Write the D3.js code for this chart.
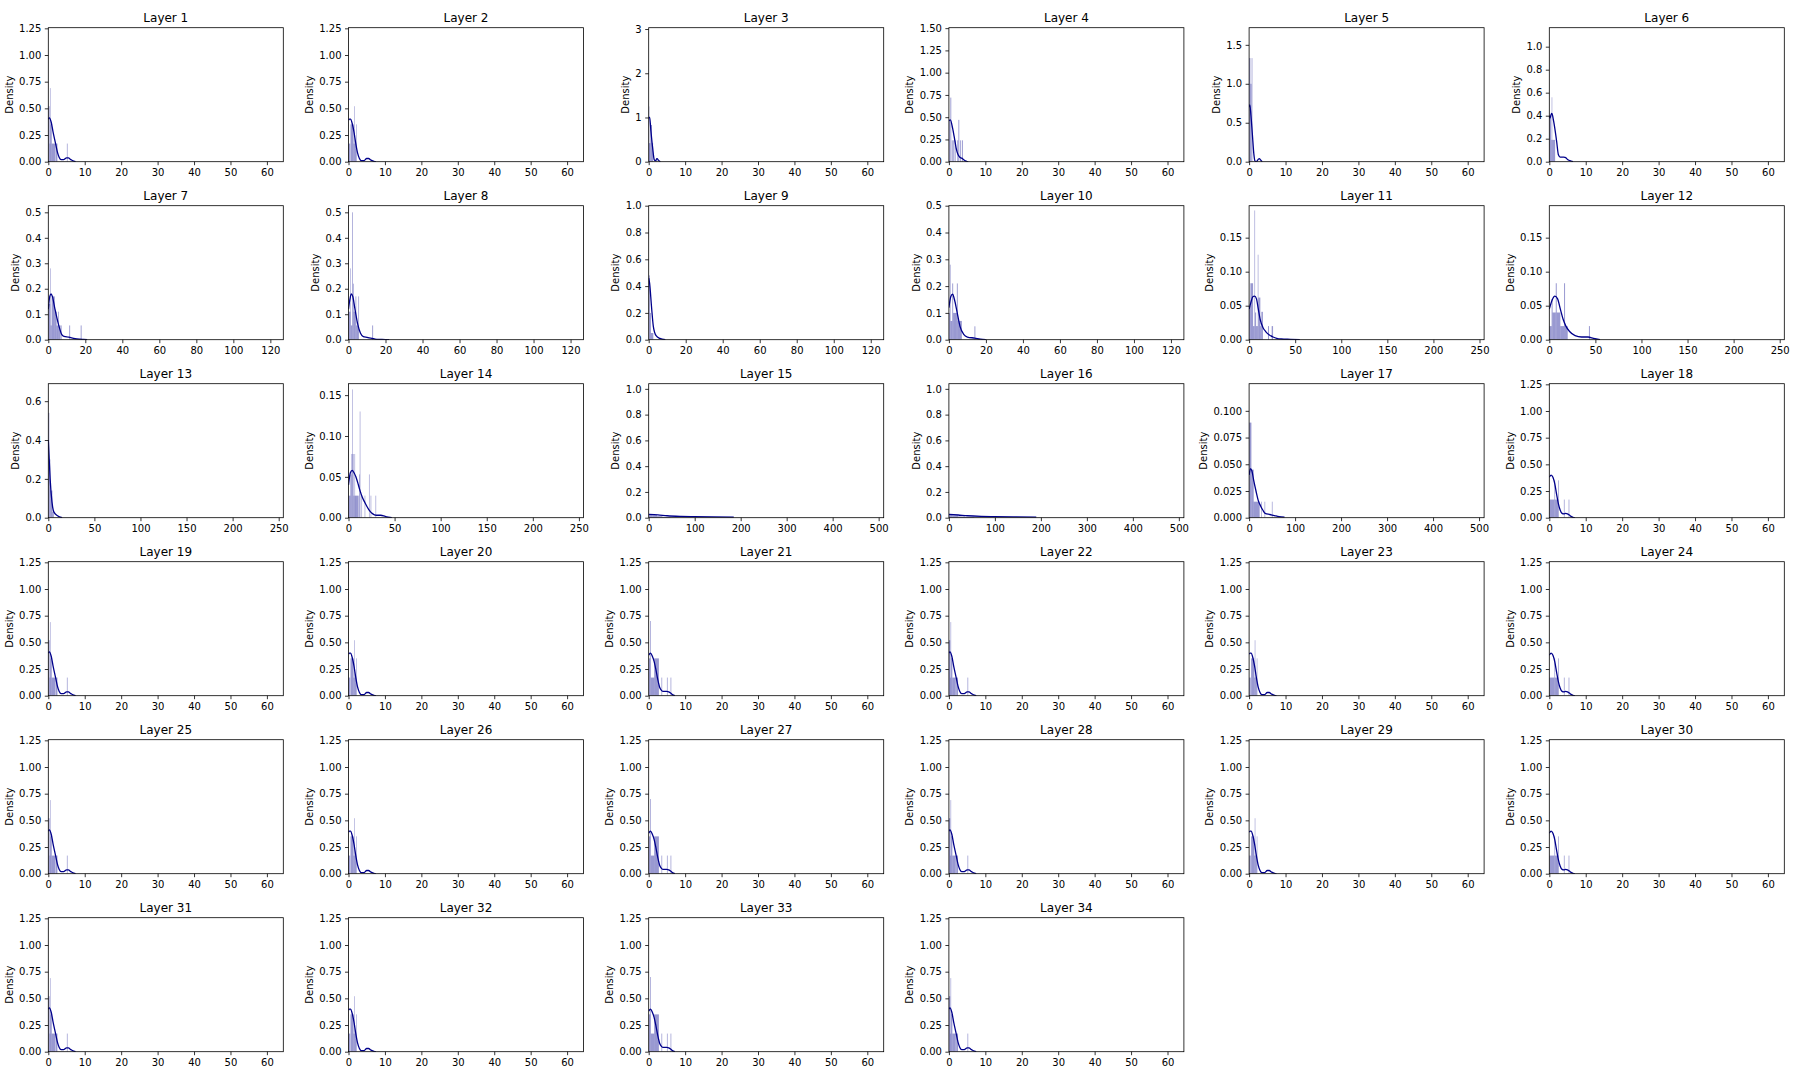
<!DOCTYPE html>
<html><head><meta charset="utf-8">
<script src="https://cdn.jsdelivr.net/npm/d3@7"></script>
<style>body{margin:0;background:#fff}text{font-family:"DejaVu Sans",sans-serif}</style>
</head><body>
<script>
const layerTitles = ["Layer 1","Layer 2","Layer 3","Layer 4","Layer 5","Layer 6","Layer 7","Layer 8","Layer 9","Layer 10","Layer 11","Layer 12","Layer 13","Layer 14","Layer 15","Layer 16","Layer 17","Layer 18","Layer 19","Layer 20","Layer 21","Layer 22","Layer 23","Layer 24","Layer 25","Layer 26","Layer 27","Layer 28","Layer 29","Layer 30","Layer 31","Layer 32","Layer 33","Layer 34"];
const xLimits = [64.5,64.5,64.5,64.5,64.5,64.5,127,127,127,127,255,255,255,255,511,511,511,64.5,64.5,64.5,64.5,64.5,64.5,64.5,64.5,64.5,64.5,64.5,64.5,64.5,64.5,64.5,64.5,64.5];
const yLimits = [1.256,1.256,3.03,1.505,1.72,1.165,0.526,0.526,1.0,0.5,0.197,0.197,0.69,0.164,1.04,1.04,0.1254,1.256,1.256,1.256,1.256,1.256,1.256,1.256,1.256,1.256,1.256,1.256,1.256,1.256,1.256,1.256,1.256,1.256];
// x tick sets
const xTicks64 = [0,10,20,30,40,50,60];
const xTicks128 = [0,20,40,60,80,100,120];
const xTicks256 = [0,50,100,150,200,250];
const xTicks512 = [0,100,200,300,400,500];
const xTickSet = [64,64,64,64,64,64,128,128,128,128,256,256,256,256,512,512,512,64,64,64,64,64,64,64,64,64,64,64,64,64,64,64,64,64];
// y tick sets
const yTicksQ = [0,0.25,0.5,0.75,1.0,1.25];
const yTicks3 = [0,1,2,3];
const yTicksQ15 = [0,0.25,0.5,0.75,1.0,1.25,1.5];
const yTicksH = [0,0.5,1.0,1.5];
const yTicksF = [0,0.2,0.4,0.6,0.8,1.0];
const yTicksT = [0,0.1,0.2,0.3,0.4,0.5];
const yTicks05 = [0,0.05,0.10,0.15];
const yTicks06 = [0,0.2,0.4,0.6];
const yTicks025 = [0,0.025,0.05,0.075,0.1];
const yTickSet = ["Q","Q","3","Q15","H","F",
                  "T","T","F","T","05","05",
                  "06","05","F","F","025","Q",
                  "Q","Q","Q","Q","Q","Q",
                  "Q","Q","Q","Q","Q","Q",
                  "Q","Q","Q","Q"];

// histogram bars: [binStart, binEnd, density]
const hist01 = [[0,0.35,0.52],[0.35,0.45,0.17],[0.45,0.6,0.69],[0.6,0.95,0.35],[0.95,1.9,0.17],[2.0,2.5,0.17],[5.1,5.3,0.17]];
const hist02 = [[0,0.45,0.17],[0.55,1.4,0.35],[1.4,1.55,0.17],[1.55,1.7,0.52],[1.7,2.1,0.17],[2.1,2.25,0.35]];
const hist03 = [[0,0.1,1.25],[0.1,0.45,0.42],[0.45,0.9,0.83],[0.9,1.2,0.42],[2.0,2.3,0.08]];
const hist04 = [[0,0.25,0.47],[0.4,0.65,0.72],[0.8,1.05,0.24],[1.2,1.45,0.24],[1.6,1.85,0.24],[2.3,2.55,0.24],[2.6,2.85,0.47],[3.1,3.35,0.24],[3.6,3.85,0.24]];
const hist05 = [[0,0.35,1.33],[0.35,0.65,1.0],[0.7,0.9,1.33]];
const hist06 = [[0,0.5,0.4],[0.5,0.65,0.19],[0.65,0.8,0.56],[0.8,1.6,0.19]];
const hist07 = [[0,1,0.14],[1,1.3,0.28],[1.3,1.8,0.056],[1.8,3.5,0.17],[3.5,4.5,0.11],[4.5,5.3,0.056],[5.3,5.7,0.11],[5.7,6.3,0.056],[6.5,7.2,0.056],[11.3,11.8,0.056],[17.5,18.0,0.056]];
const hist08 = [[0,1,0.11],[1,1.3,0.28],[1.3,2.0,0.056],[2.0,2.4,0.5],[2.4,2.8,0.22],[2.8,3.8,0.11],[3.8,4.2,0.17],[4.2,5.3,0.056],[5.3,5.7,0.17],[12.8,13.3,0.056]];
const hist09 = [[0,0.6,0.48],[0.6,1.2,0.2],[1.2,2.5,0.05]];
const hist10 = [[0,0.5,0.1],[0.5,0.9,0.28],[0.9,1.8,0.07],[1.8,2.3,0.21],[2.3,4.3,0.1],[4.3,4.8,0.21],[4.8,7,0.07],[13.8,14.3,0.05]];
const hist11 = [[0,1.4,0.05],[1.4,4.3,0.083],[4.3,5.8,0.02],[5.8,6.5,0.19],[6.5,7.6,0.04],[7.6,9.4,0.02],[9.4,10.1,0.125],[10.1,12.2,0.062],[12.2,13.3,0.02],[13.3,15,0.041],[20.5,21.6,0.02],[24.5,26,0.02]];
const hist12 = [[0,2.5,0.02],[2.5,3.6,0.06],[3.6,7,0.04],[7,8.1,0.083],[8.1,12,0.04],[12,16,0.02],[16,17.1,0.083],[17.1,20,0.02],[43,44.1,0.02]];
const hist13 = [[0,1.1,0.54],[1.1,2.2,0.3],[2.2,4.4,0.14],[4.4,6,0.03]];
const hist14 = [[0,2,0.027],[2,3.2,0.053],[3.2,3.9,0.078],[3.9,4.5,0.157],[4.5,5.5,0.078],[5.5,6.5,0.027],[6.5,7,0.078],[7,11,0.027],[11.5,12.2,0.053],[12.2,12.9,0.13],[14,14.7,0.027],[17.5,18.2,0.027],[22.2,22.9,0.053],[24,24.7,0.027],[29.3,30,0.027]];
const hist15 = [[0,8,0.028],[8,18,0.02],[18,30,0.012],[30,47,0.006]];
const hist16 = [[0,8,0.026],[8,20,0.018],[20,35,0.01],[35,55,0.005]];
const hist17 = [[0,5,0.089],[5,10,0.045],[10,23,0.015],[26,27.5,0.015],[33.5,35,0.015],[49.5,51,0.015]];
const hist18 = [[0,1.4,0.17],[1.4,1.6,0.35],[1.6,2.4,0.17],[2.4,2.6,0.35],[4,4.2,0.17],[5.3,5.5,0.17]];
const hist21 = [[0,0.4,0.35],[0.4,0.6,0.7],[0.6,1.5,0.17],[1.5,2.8,0.35],[3.5,3.7,0.17],[5,5.2,0.17],[6,6.2,0.17]];

// KDE curves: [x, density]
const kde01 = [[0,0.40],[0.3,0.41],[0.8,0.37],[1.3,0.28],[2,0.17],[2.5,0.09],[3,0.04],[3.5,0.02],[4.2,0.02],[5,0.035],[5.5,0.035],[6.2,0.02],[7,0.005],[7.5,0]];
const kde02 = [[0,0.39],[0.3,0.40],[0.6,0.40],[1,0.36],[1.5,0.28],[2,0.17],[2.5,0.08],[3,0.03],[3.5,0.01],[4.2,0.01],[5,0.03],[5.5,0.03],[6.2,0.015],[7,0.003],[7.5,0]];
const kde03 = [[0,1.0],[0.27,1.0],[0.6,0.7],[1.1,0.3],[1.5,0.05],[1.8,0.02],[2.3,0.07],[2.7,0.03],[3.2,0]];
const kde04 = [[0,0.46],[0.4,0.47],[1,0.38],[1.5,0.27],[2,0.15],[2.5,0.08],[3,0.05],[3.5,0.04],[4,0.025],[4.5,0.01],[5,0.002],[5.3,0]];
const kde05 = [[0,0.7],[0.2,0.73],[0.5,0.6],[0.9,0.35],[1.3,0.1],[1.6,0.01],[2,0.0],[2.5,0.03],[2.8,0.04],[3.2,0.02],[3.6,0]];
const kde06 = [[0,0.4],[0.2,0.38],[0.5,0.41],[0.7,0.42],[1.2,0.35],[2,0.18],[2.5,0.06],[3,0.04],[4,0.04],[4.5,0.035],[5,0.02],[6,0.005],[6.5,0]];
const kde07 = [[0,0.12],[0.8,0.17],[1.5,0.18],[2.2,0.17],[3.6,0.12],[5.5,0.06],[7.3,0.02],[8.5,0.013],[11,0.01],[14.5,0.004],[17,0.002],[19,0.001],[21,0]];
const kde08 = [[0,0.12],[0.8,0.16],[1.5,0.18],[2.3,0.17],[3.5,0.12],[5,0.06],[6.5,0.025],[8,0.012],[10,0.009],[12,0.006],[14,0.003],[16,0.001],[20,0.0005],[22,0]];
const kde09 = [[0,0.46],[0.5,0.42],[1.5,0.25],[2.5,0.1],[4,0.03],[6,0.01],[9,0]];
const kde10 = [[0,0.12],[1,0.16],[2,0.17],[3,0.15],[4.5,0.1],[6,0.05],[8,0.02],[10,0.01],[14,0.006],[17,0.002],[20,0]];
const kde11 = [[0,0.045],[2,0.055],[4,0.063],[6,0.064],[8,0.06],[10,0.045],[12,0.03],[15,0.018],[18,0.012],[22,0.007],[26,0.004],[30,0.002],[35,0.001],[45,0.0005],[55,0]];
const kde12 = [[0,0.045],[3,0.058],[6,0.064],[9,0.06],[12,0.045],[15,0.03],[18,0.02],[22,0.012],[28,0.006],[35,0.004],[42,0.004],[48,0.002],[55,0]];
const kde13 = [[0,0.4],[1,0.3],[2,0.2],[4,0.08],[6,0.03],[10,0.01],[15,0]];
const kde14 = [[0,0.04],[2,0.055],[4,0.058],[6,0.055],[8,0.05],[10,0.043],[12,0.035],[15,0.025],[18,0.018],[22,0.01],[26,0.005],[30,0.003],[35,0.003],[40,0.0015],[45,0.0003],[47,0]];
const kde15 = [[0,0.026],[20,0.022],[40,0.015],[70,0.01],[100,0.008],[140,0.006],[185,0.005]];
const kde16 = [[0,0.026],[20,0.021],[40,0.015],[70,0.01],[100,0.008],[140,0.006],[190,0.005]];
const kde17 = [[0,0.04],[3,0.046],[6,0.044],[10,0.035],[15,0.025],[20,0.016],[25,0.011],[30,0.007],[35,0.004],[45,0.003],[55,0.002],[65,0.001],[77,0.0005]];
const kde18 = [[0,0.38],[0.5,0.4],[1,0.38],[1.5,0.32],[2,0.22],[2.5,0.13],[3,0.07],[3.5,0.04],[4,0.035],[4.5,0.04],[5,0.035],[5.5,0.025],[6,0.012],[6.5,0.004],[7,0]];
const kde21 = [[0,0.38],[0.5,0.4],[1,0.37],[1.5,0.32],[2,0.24],[2.5,0.15],[3,0.08],[3.5,0.05],[4,0.04],[4.5,0.04],[5,0.04],[5.5,0.035],[6,0.025],[6.5,0.01],[7.2,0]];

const layerHist = [hist01,hist02,hist03,hist04,hist05,hist06,hist07,hist08,hist09,hist10,hist11,hist12,hist13,hist14,hist15,hist16,hist17,hist18,
  hist01,hist02,hist21,hist01,hist02,hist18,hist01,hist02,hist21,hist01,hist02,hist18,hist01,hist02,hist21,hist01];
const layerKde = [kde01,kde02,kde03,kde04,kde05,kde06,kde07,kde08,kde09,kde10,kde11,kde12,kde13,kde14,kde15,kde16,kde17,kde18,
  kde01,kde02,kde21,kde01,kde02,kde18,kde01,kde02,kde21,kde01,kde02,kde18,kde01,kde02,kde21,kde01];

const xTickMap = {64:xTicks64,128:xTicks128,256:xTicks256,512:xTicks512};
const yTickMap = {Q:[yTicksQ,2],"3":[yTicks3,0],Q15:[yTicksQ15,2],H:[yTicksH,1],F:[yTicksF,1],T:[yTicksT,1],"05":[yTicks05,2],"06":[yTicks06,1],"025":[yTicks025,3]};

const W = 1800, H = 1080;
const pw = 235, ph = 134;
const colLeft = c => 48.3 + 300.2 * c;
const rowTop = r => 27.7 + 178 * r;
const barColor = "#00008b";

const svg = d3.select("body").append("svg").attr("width", W).attr("height", H);
const defs = svg.append("defs");

layerTitles.forEach((title, i) => {
  const r = Math.floor(i / 6), c = i % 6;
  const g = svg.append("g").attr("transform", `translate(${colLeft(c)},${rowTop(r)})`);
  const x = d3.scaleLinear().domain([0, xLimits[i]]).range([0, pw]);
  const y = d3.scaleLinear().domain([0, yLimits[i]]).range([ph, 0]);
  const cid = "clip" + i;
  defs.append("clipPath").attr("id", cid).append("rect").attr("width", pw).attr("height", ph);
  const plot = g.append("g").attr("clip-path", `url(#${cid})`);
  plot.selectAll("rect.bar").data(layerHist[i]).join("rect").attr("class", "bar")
    .attr("x", d => x(d[0])).attr("width", d => Math.max(0.6, x(d[1]) - x(d[0])))
    .attr("y", d => y(d[2])).attr("height", d => y(0) - y(d[2]))
    .attr("fill", barColor).attr("fill-opacity", 0.4);
  plot.append("path").datum(layerKde[i])
    .attr("d", d3.line().x(d => x(d[0])).y(d => y(d[1])).curve(d3.curveMonotoneX))
    .attr("fill", "none").attr("stroke", barColor).attr("stroke-width", 1.3);

  const xt = xTickMap[xTickSet[i]];
  const [yt, dec] = yTickMap[yTickSet[i]];
  const xa = g.append("g").attr("transform", `translate(0,${ph})`)
    .call(d3.axisBottom(x).tickValues(xt).tickFormat(d3.format("d")).tickSize(3.5).tickPadding(3.5));
  const ya = g.append("g")
    .call(d3.axisLeft(y).tickValues(yt).tickFormat(d3.format(`.${dec}f`)).tickSize(3.5).tickPadding(3.5));
  [xa, ya].forEach(a => {
    a.select(".domain").remove();
    a.selectAll("line").attr("stroke", "#000").attr("stroke-width", 0.8);
    a.selectAll("text").attr("fill", "#000").style("font-size", "10px").style("font-family", '"DejaVu Sans",sans-serif');
  });
  xa.selectAll("text").attr("dy", "0.76em");
  g.append("rect").attr("width", pw).attr("height", ph).attr("fill", "none").attr("stroke", "#000").attr("stroke-width", 0.8);
  g.append("text").attr("x", pw / 2).attr("y", -6).attr("text-anchor", "middle")
    .style("font-size", "12px").attr("fill", "#000").text(title);
  let maxW = 0;
  ya.selectAll("text").each(function () { maxW = Math.max(maxW, this.getBBox().width); });
  const lx = -3.5 - 3.5 - maxW - 4 - 2.4;
  g.append("text").attr("transform", `translate(${lx},${ph / 2}) rotate(-90)`)
    .attr("text-anchor", "middle").style("font-size", "10px").attr("fill", "#000").text("Density");
});
</script>
</body></html>
